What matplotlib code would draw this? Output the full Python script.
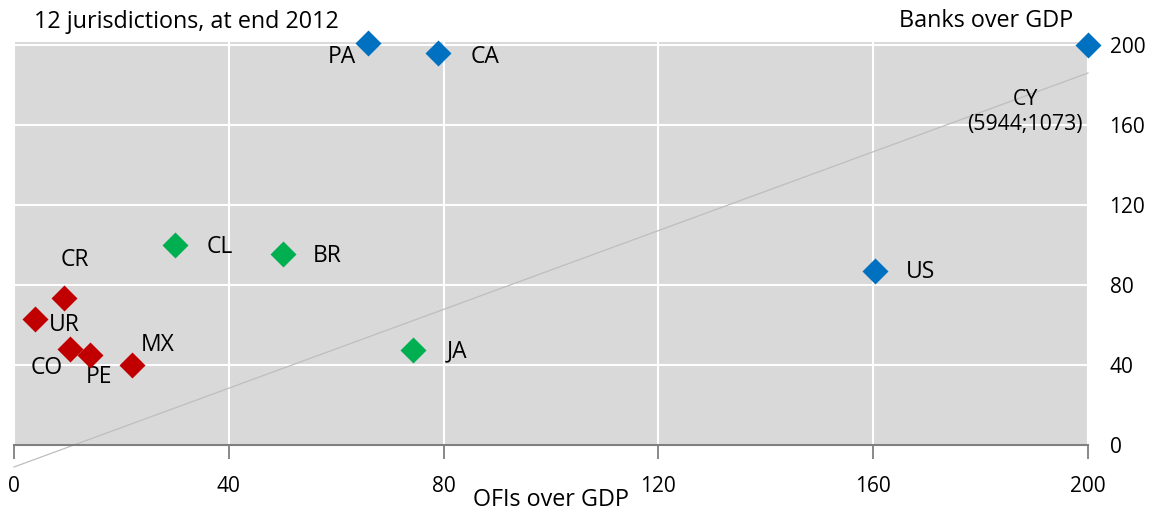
import matplotlib.pyplot as plt

plt.rcParams['font.family'] = ['Open Sans', 'DejaVu Sans']

codes = ['PA', 'CA', 'CY', 'US', 'CL', 'BR', 'JA', 'CR', 'UR', 'CO', 'PE', 'MX']
ofis = [66, 79, 200, 160.3, 30, 50, 74.3, 9.3, 3.9, 10.4, 14.2, 22]
banks = [201, 196, 200, 87, 100, 95.5, 47.5, 73.5, 63, 48, 45, 40]
groups = ['blue', 'blue', 'blue', 'blue', 'green', 'green', 'green',
          'red', 'red', 'red', 'red', 'red']
# label offsets in px (dx, dy)
label_off = {'PA': (-27, -14), 'CA': (47, -4), 'US': (46, -1), 'CL': (45, -2),
             'BR': (45, -2), 'JA': (44, -1), 'CR': (11, 38), 'UR': (29, -6),
             'CO': (-23, -19), 'PE': (9, -22), 'MX': (26, 20)}
cy_label = 'CY\n(5944;1073)'
trend_x = [0, 200]
trend_y = [-11, 186]

colors = {'blue': '#0070C0', 'green': '#00B050', 'red': '#C00000'}

fig = plt.figure(figsize=(11.55, 5.14), dpi=100)
ax = fig.add_axes([14/1155, 69/514, 1074/1155, 403/514])
ax.set_facecolor('#D9D9D9')
ax.set_xlim(0, 200)
ax.set_ylim(0, 201.5)

ax.plot(trend_x, trend_y, color='#BEBEBE', lw=0.9, clip_on=False, zorder=2)

for c, x, y, g in zip(codes, ofis, banks, groups):
    ax.plot(x, y, marker='D', ms=13.5, color=colors[g], mec='none',
            clip_on=False, zorder=4)
    if c in label_off:
        dx, dy = label_off[c]
        ax.annotate(c, (x, y), xytext=(dx * 0.72, dy * 0.72),
                    textcoords='offset points', ha='center', va='center',
                    fontsize=16.5)

ax.annotate(cy_label, (200, 200), xytext=(-63 * 0.72, -67 * 0.72),
            textcoords='offset points', ha='center', va='center',
            fontsize=15.3, linespacing=1.3)

ax.set_xticks([0, 40, 80, 120, 160, 200])
ax.set_yticks([0, 40, 80, 120, 160, 200])
ax.grid(True, color='white', lw=1.5)
ax.set_axisbelow(True)
for s in ['top', 'left', 'right']:
    ax.spines[s].set_visible(False)
ax.spines['bottom'].set_color('#808080')
ax.spines['bottom'].set_linewidth(1.5)
ax.tick_params(axis='x', direction='out', length=10, width=1.3,
               color='#808080', labelsize=15, pad=12)
ax.tick_params(axis='y', left=False, right=False, labelleft=False,
               labelright=True, labelsize=15, pad=12)
ax.set_xlabel('OFIs over GDP', fontsize=16.8, labelpad=-6)

fig.text(34/1155, 1 - 22/514, '12 jurisdictions, at end 2012', fontsize=16.8,
         va='center', ha='left')
fig.text(1073/1155, 1 - 21/514, 'Banks over GDP', fontsize=16.8,
         va='center', ha='right')

fig.savefig('out.png', dpi=100)
